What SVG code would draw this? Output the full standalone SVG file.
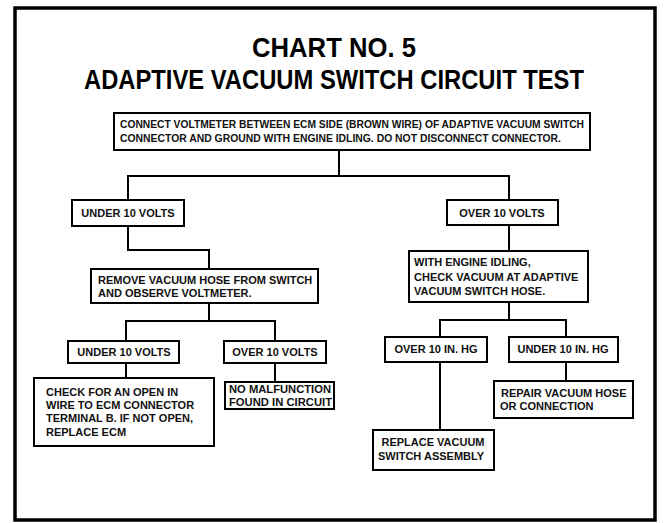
<svg xmlns="http://www.w3.org/2000/svg" width="666" height="523" viewBox="0 0 666 523">
  <style>
    .box { fill: #fff; stroke: #000; stroke-width: 2; }
    .wire { fill: none; stroke: #000; stroke-width: 2; }
    .frame { fill: none; stroke: #000; stroke-width: 3.5; }
    .title { font-family: "Liberation Sans", Arial, sans-serif; font-weight: bold; font-size: 27px; fill: #000; text-anchor: middle; }
    .t { font-family: "Liberation Sans", Arial, sans-serif; font-weight: bold; font-size: 11px; fill: #111; }
    .c { text-anchor: middle; }
  </style>
  <rect width="666" height="523" fill="#fff"/>

  <!-- outer frame -->
  <rect class="frame" x="15" y="8" width="640" height="512"/>

  <!-- heading -->
  <text class="title" x="334" y="57" textLength="164" lengthAdjust="spacingAndGlyphs">CHART NO. 5</text>
  <text class="title" x="334" y="89" textLength="500" lengthAdjust="spacingAndGlyphs">ADAPTIVE VACUUM SWITCH CIRCUIT TEST</text>

  <!-- connectors -->
  <g id="connectors">
    <polyline class="wire" points="339,150 339,176"/>
    <polyline class="wire" points="128,200 128,176 509,176 509,200"/>
    <polyline class="wire" points="128,226 128,250 209,250 209,269"/>
    <polyline class="wire" points="209,303 209,321"/>
    <polyline class="wire" points="126,341 126,321 275,321 275,341"/>
    <polyline class="wire" points="126,363 126,378"/>
    <polyline class="wire" points="275,363 275,382"/>
    <polyline class="wire" points="509,225 509,251"/>
    <polyline class="wire" points="509,302 509,320"/>
    <polyline class="wire" points="440,337 440,320 566,320 566,337"/>
    <polyline class="wire" points="440,362 440,430"/>
    <polyline class="wire" points="566,362 566,381"/>
  </g>

  <!-- start step -->
  <g id="start">
    <rect class="box" x="114" y="113" width="476" height="37"/>
    <text class="t" x="120" y="128" textLength="464" lengthAdjust="spacingAndGlyphs">CONNECT VOLTMETER BETWEEN ECM SIDE (BROWN WIRE) OF ADAPTIVE VACUUM SWITCH</text>
    <text class="t" x="120" y="142" textLength="441" lengthAdjust="spacingAndGlyphs">CONNECTOR AND GROUND WITH ENGINE IDLING. DO NOT DISCONNECT CONNECTOR.</text>
  </g>

  <!-- left branch -->
  <g id="under-10-volts">
    <rect class="box" x="72" y="200" width="112" height="26"/>
    <text class="t c" x="128" y="217">UNDER 10 VOLTS</text>
  </g>
  <g id="remove-hose">
    <rect class="box" x="91" y="269" width="227" height="34"/>
    <text class="t" x="98" y="284">REMOVE VACUUM HOSE FROM SWITCH</text>
    <text class="t" x="98" y="297">AND OBSERVE VOLTMETER.</text>
  </g>
  <g id="under-10-volts-2">
    <rect class="box" x="68" y="341" width="111" height="22"/>
    <text class="t c" x="124" y="356">UNDER 10 VOLTS</text>
  </g>
  <g id="over-10-volts-2">
    <rect class="box" x="224" y="341" width="102" height="22"/>
    <text class="t c" x="275" y="356">OVER 10 VOLTS</text>
  </g>
  <g id="check-open">
    <rect class="box" x="34" y="378" width="180" height="68"/>
    <text class="t" x="46" y="396">CHECK FOR AN OPEN IN</text>
    <text class="t" x="46" y="409">WIRE TO ECM CONNECTOR</text>
    <text class="t" x="46" y="422">TERMINAL B. IF NOT OPEN,</text>
    <text class="t" x="46" y="436">REPLACE ECM</text>
  </g>
  <g id="no-malfunction">
    <rect class="box" x="225" y="382" width="109" height="27"/>
    <text class="t" x="229" y="393" textLength="102" lengthAdjust="spacingAndGlyphs">NO MALFUNCTION</text>
    <text class="t" x="229" y="406" textLength="103" lengthAdjust="spacingAndGlyphs">FOUND IN CIRCUIT</text>
  </g>

  <!-- right branch -->
  <g id="over-10-volts">
    <rect class="box" x="447" y="200" width="111" height="25"/>
    <text class="t c" x="502" y="217">OVER 10 VOLTS</text>
  </g>
  <g id="check-vacuum">
    <rect class="box" x="409" y="251" width="179" height="51"/>
    <text class="t" x="414" y="266">WITH ENGINE IDLING,</text>
    <text class="t" x="414" y="281">CHECK VACUUM AT ADAPTIVE</text>
    <text class="t" x="414" y="295">VACUUM SWITCH HOSE.</text>
  </g>
  <g id="over-10-in-hg">
    <rect class="box" x="385" y="337" width="102" height="25"/>
    <text class="t c" x="436" y="353">OVER 10 IN. HG</text>
  </g>
  <g id="under-10-in-hg">
    <rect class="box" x="509" y="337" width="109" height="25"/>
    <text class="t c" x="563" y="353">UNDER 10 IN. HG</text>
  </g>
  <g id="replace-switch">
    <rect class="box" x="373" y="430" width="121" height="40"/>
    <text class="t c" x="433" y="446">REPLACE VACUUM</text>
    <text class="t c" x="431" y="460">SWITCH ASSEMBLY</text>
  </g>
  <g id="repair-hose">
    <rect class="box" x="494" y="381" width="139" height="37"/>
    <text class="t" x="501" y="397">REPAIR VACUUM HOSE</text>
    <text class="t" x="500" y="410">OR CONNECTION</text>
  </g>
</svg>
